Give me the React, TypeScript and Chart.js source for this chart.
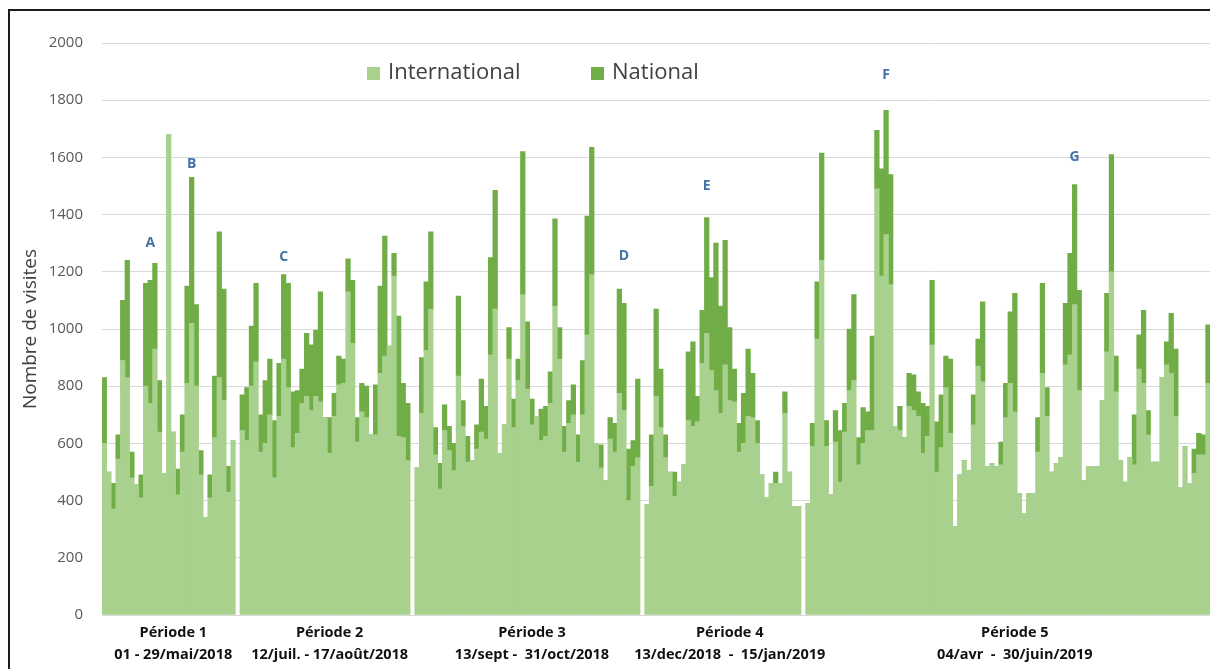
import { useEffect, useRef } from 'react';
import { Chart, registerables } from 'chart.js';

Chart.register(...registerables);

// ---- Period labels ----
const periodNames = ['Période 1', 'Période 2', 'Période 3', 'Période 4', 'Période 5'];
const periodDates = [
  '01 - 29/mai/2018',
  '12/juil. - 17/août/2018',
  '13/sept -  31/oct/2018',
  '13/dec/2018  -  15/jan/2019',
  '04/avr  -  30/juin/2019',
];

// ---- Daily visits, International (light) and National (dark) ----
const intlP1 = [600, 500, 370, 545, 890, 830, 480, 455, 410, 800, 740, 930, 640, 495, 1680, 640, 420, 570, 810, 1020, 800, 490, 340, 410, 620, 830, 750, 430, 610];
const natP1 = [230, 0, 90, 85, 210, 410, 90, 0, 80, 360, 430, 300, 180, 0, 0, 0, 90, 130, 340, 510, 285, 85, 0, 80, 215, 510, 390, 90, 0];

const intlP2 = [645, 610, 800, 885, 570, 600, 700, 480, 695, 895, 795, 585, 635, 740, 765, 715, 765, 745, 690, 565, 695, 805, 810, 1130, 950, 605, 710, 690, 630, 630, 845, 905, 940, 1185, 625, 620, 540];
const natP2 = [125, 185, 210, 275, 130, 220, 195, 200, 185, 295, 365, 195, 150, 120, 220, 230, 230, 385, 0, 125, 80, 100, 85, 115, 220, 85, 100, 110, 0, 175, 305, 420, 0, 80, 420, 190, 200];

const intlP3 = [515, 705, 925, 1070, 560, 440, 645, 575, 505, 835, 660, 535, 540, 580, 640, 615, 910, 1070, 565, 665, 895, 655, 820, 1120, 790, 665, 695, 610, 625, 740, 1080, 895, 570, 670, 700, 535, 700, 980, 1190, 600, 515, 470, 615, 570, 775, 715, 400, 520, 550];
const natP3 = [0, 195, 240, 270, 95, 90, 90, 85, 95, 280, 90, 90, 0, 85, 185, 115, 340, 415, 0, 0, 110, 100, 75, 500, 235, 90, 0, 110, 105, 110, 305, 110, 90, 80, 105, 95, 190, 415, 445, 0, 80, 0, 75, 100, 365, 375, 180, 90, 275];

const intlP4 = [385, 450, 765, 655, 550, 500, 415, 465, 525, 680, 660, 675, 880, 985, 855, 785, 705, 875, 750, 745, 570, 600, 695, 690, 600, 490, 410, 460, 460, 460, 705, 500, 380, 380];
const natP4 = [0, 180, 305, 205, 80, 0, 85, 0, 0, 240, 295, 90, 185, 405, 325, 515, 375, 435, 255, 115, 100, 175, 235, 155, 80, 0, 0, 0, 40, 0, 75, 0, 0, 0];

const intlP5 = [390, 590, 965, 1240, 590, 420, 605, 465, 640, 785, 820, 525, 600, 645, 645, 1490, 1185, 1330, 1155, 660,
  645, 620, 730, 715, 695, 565, 625, 945, 500, 585, 795, 635, 310, 490, 540, 505, 665, 870, 815, 520,
  530, 520, 525, 690, 810, 710, 425, 355, 425, 425, 570, 845, 695, 500, 530, 550, 875, 910, 1085, 785,
  470, 520, 520, 520, 750, 920, 1200, 780, 540, 465, 550, 525, 860, 810, 630, 535, 535, 830, 875, 845,
  695, 445, 590, 460, 495, 560, 560, 810];
const natP5 = [0, 80, 200, 375, 90, 0, 110, 180, 100, 215, 300, 95, 125, 65, 330, 205, 375, 435, 385, 0,
  85, 0, 115, 125, 85, 175, 105, 225, 175, 185, 110, 260, 0, 0, 0, 0, 105, 95, 280, 0,
  0, 0, 80, 120, 250, 415, 0, 0, 0, 0, 120, 315, 100, 0, 0, 0, 215, 355, 420, 350,
  0, 0, 0, 0, 0, 205, 410, 125, 0, 0, 0, 175, 120, 255, 85, 0, 0, 0, 80, 210,
  235, 0, 0, 0, 85, 75, 70, 205];

const intlPeriods = [intlP1, intlP2, intlP3, intlP4, intlP5];
const natPeriods = [natP1, natP2, natP3, natP4, natP5];

// ---- Letter annotations (period number, day within period, value) ----
const markLetters = ['A', 'B', 'C', 'D', 'E', 'F', 'G'];
const markPeriod = [1, 1, 2, 3, 4, 5, 5];
const markDay = [11, 20, 10, 46, 14, 18, 59];
const markValue = [1300, 1577, 1252, 1255, 1500, 1888, 1601];

const seriesNames = ['International', 'National'];
const seriesColors = ['#A9D18E', '#70AD47'];

// ---- build the category table, one empty slot between periods ----
const labels: string[] = [];
const intl: (number | null)[] = [];
const nat: (number | null)[] = [];
const periodStart: number[] = [];
const tickText: Record<number, string[]> = {};
intlPeriods.forEach((arr, p) => {
  if (p > 0) {
    labels.push('gap' + p);
    intl.push(null);
    nat.push(null);
  }
  periodStart.push(labels.length);
  tickText[labels.length + Math.floor(arr.length / 2) + 1] = [periodNames[p], periodDates[p]];
  arr.forEach((v, d) => {
    labels.push('P' + (p + 1) + '-' + (d + 1));
    intl.push(v);
    nat.push(natPeriods[p][d]);
  });
});

const FONT = "'Open Sans', 'DejaVu Sans', sans-serif";

const overlayPlugin = {
  id: 'overlay',
  afterDatasetsDraw(chart: any) {
    const ctx = chart.ctx;
    const xs = chart.scales.x;
    const ys = chart.scales.y;
    ctx.save();
    // letters
    ctx.font = `bold 14px ${FONT}`;
    ctx.fillStyle = '#4472A4';
    ctx.textAlign = 'center';
    ctx.textBaseline = 'middle';
    markLetters.forEach((l, i) => {
      const idx = periodStart[markPeriod[i] - 1] + markDay[i] - 1;
      ctx.fillText(l, xs.getPixelForValue(idx), ys.getPixelForValue(markValue[i]));
    });
    // legend
    const legendX = [367, 591];
    ctx.font = `22px ${FONT}`;
    ctx.textAlign = 'left';
    seriesNames.forEach((n, i) => {
      ctx.fillStyle = seriesColors[i];
      ctx.fillRect(legendX[i], 67, 13, 13);
      ctx.fillStyle = '#404040';
      ctx.fillText(n, legendX[i] + 21, 73);
    });
    ctx.restore();
  },
};

export default function App() {
  const ref = useRef<HTMLCanvasElement>(null);
  useEffect(() => {
    if (!ref.current) return;
    const chart = new Chart(ref.current, {
      type: 'bar',
      data: {
        labels,
        datasets: [
          { label: seriesNames[0], data: intl, backgroundColor: seriesColors[0], borderWidth: 0, barPercentage: 1, categoryPercentage: 1 },
          { label: seriesNames[1], data: nat, backgroundColor: seriesColors[1], borderWidth: 0, barPercentage: 1, categoryPercentage: 1 },
        ],
      },
      options: {
        animation: false,
        responsive: false,
        maintainAspectRatio: false,
        layout: { padding: { left: 0, right: 0, top: 43, bottom: 0 } },
        plugins: { legend: { display: false }, tooltip: { enabled: false } },
        scales: {
          x: {
            stacked: true,
            grid: { display: false, drawTicks: false },
            border: { display: false },
            afterFit: (s: any) => { s.height = 54; },
            ticks: {
              autoSkip: false,
              maxRotation: 0,
              minRotation: 0,
              padding: 6,
              color: '#111111',
              font: { family: FONT, size: 14.5, weight: 'bold', lineHeight: 1.58 },
              callback: (_v: any, i: number) => tickText[i] ?? '',
            },
          },
          y: {
            stacked: true,
            min: 0,
            max: 2000,
            grid: { color: '#D9D9D9', drawTicks: false },
            border: { display: false },
            afterFit: (s: any) => { s.width = 102; },
            ticks: {
              stepSize: 200,
              padding: 19,
              color: '#595959',
              font: { family: FONT, size: 15 },
              callback: (v: any) => String(v),
            },
            title: {
              display: true,
              text: 'Nombre de visites',
              color: '#404040',
              font: { family: FONT, size: 19 },
              padding: { top: 19, bottom: 0 },
            },
          },
        },
      },
      plugins: [overlayPlugin],
    } as any);
    return () => chart.destroy();
  }, []);

  return (
    <div style={{ position: 'fixed', left: 0, top: 0, width: 1210, height: 669, overflow: 'hidden', background: '#fff' }}>
      <canvas ref={ref} width={1214} height={669} style={{ display: 'block' }} />
      <div style={{ position: 'absolute', left: 8, top: 9, width: 1300, height: 800, border: '2px solid #1a1a1a', pointerEvents: 'none' }} />
    </div>
  );
}
